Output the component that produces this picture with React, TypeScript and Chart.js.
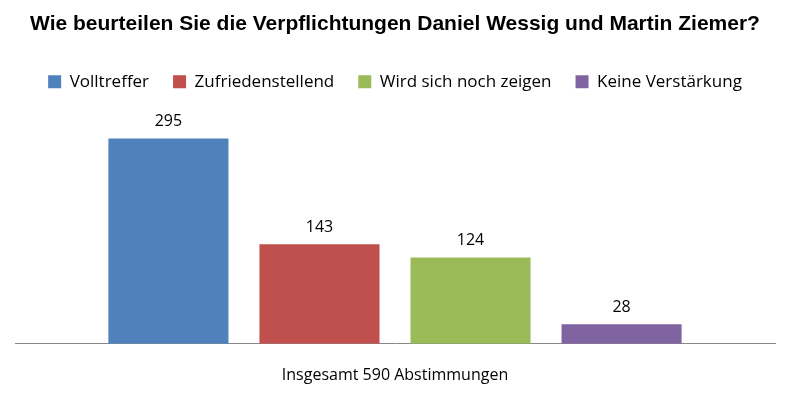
import React, { useEffect, useRef } from "react";
import { Chart, registerables } from "chart.js";
Chart.register(...registerables);

const categories = ["Insgesamt 590 Abstimmungen"];
const seriesNames = ["Volltreffer", "Zufriedenstellend", "Wird sich noch zeigen", "Keine Verstärkung"];
const seriesValues = [295, 143, 124, 28];
const colors = ["#4F81BD", "#C0504D", "#9BBB59", "#8064A2"];

const labelPlugin = {
  id: "labels",
  afterDatasetsDraw(chart: any) {
    const ctx = chart.ctx;
    ctx.save();
    ctx.font = "16px 'Open Sans', sans-serif";
    ctx.fillStyle = "#000";
    ctx.textAlign = "center";
    ctx.textBaseline = "bottom";
    chart.data.datasets.forEach((ds: any, i: number) => {
      chart.getDatasetMeta(i).data.forEach((bar: any, j: number) => {
        ctx.fillText(String(ds.data[j]), bar.x, bar.y - 9);
      });
    });
    ctx.restore();
  },
};

export default function App() {
  const ref = useRef<HTMLCanvasElement>(null);
  useEffect(() => {
    const chart = new Chart(ref.current!, {
      type: "bar",
      data: {
        labels: categories,
        datasets: seriesNames.map((n, i) => ({
          label: n,
          data: [seriesValues[i]],
          backgroundColor: colors[i],
          categoryPercentage: 0.795,
          barPercentage: 0.795,
        })),
      },
      options: {
        animation: false,
        responsive: false,
        layout: { padding: { left: 15, right: 14, top: 4, bottom: 8 } },
        plugins: {
          title: {
            display: true,
            text: "Wie beurteilen Sie die Verpflichtungen Daniel Wessig und Martin Ziemer?",
            font: { family: "'Liberation Sans', Arial, sans-serif", size: 21, weight: "bold" },
            color: "#000",
            padding: { top: 8, bottom: 12 },
          },
          legend: {
            labels: {
              boxWidth: 13, boxHeight: 13, padding: 24,
              font: { family: "'Open Sans', sans-serif", size: 17 }, color: "#000",
            },
          },
          tooltip: { enabled: false },
        },
        scales: {
          x: {
            grid: { display: false },
            border: { color: "#888" },
            ticks: { color: "#000", font: { family: "'Open Sans', sans-serif", size: 16 }, padding: 14 },
          },
          y: { display: false, min: 0, max: 350 },
        },
      },
      plugins: [labelPlugin],
    });
    return () => chart.destroy();
  }, []);
  return (
    <div style={{ position: "absolute", left: 0, top: 0, width: 789, height: 407, background: "#fff" }}>
      <canvas ref={ref} width={789} height={407} />
    </div>
  );
}
